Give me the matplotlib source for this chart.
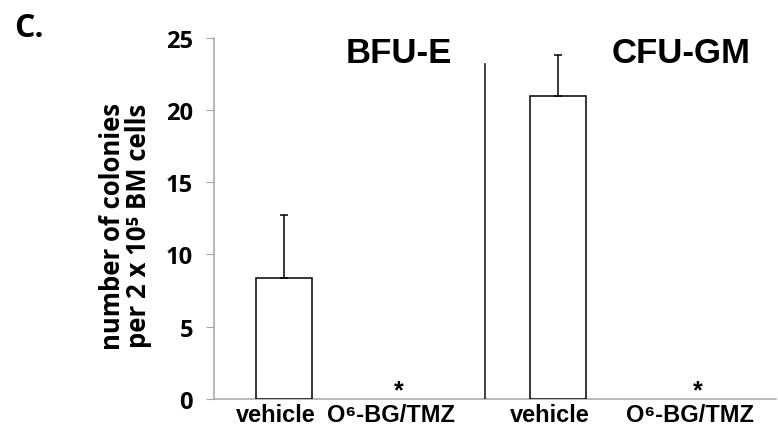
import numpy as np
import matplotlib.pyplot as plt

# data
groups = ["vehicle", "O⁶-BG/TMZ", "vehicle", "O⁶-BG/TMZ"]
means = [8.4, 0.0, 20.95, 0.0]
errs = [4.35, 0.0, 2.85, 0.0]
signif = [False, True, False, True]
panels = ["BFU-E", "CFU-GM"]

xpos = np.array([1.25, 3.3, 6.15, 8.65])
divider = 4.84

arial = ["Liberation Sans", "DejaVu Sans"]
calibri = ["Open Sans", "DejaVu Sans"]

fig = plt.figure(figsize=(7.78, 4.31), dpi=100)
ax = fig.add_axes([0.275, 0.072, 0.722, 0.838])

grey = "#a6a6a6"
for x, m, e, s in zip(xpos, means, errs, signif):
	if m > 0:
		ax.bar(x, m, width=1.0, color="white", edgecolor="black", linewidth=1.1, zorder=3)
		ax.errorbar(x, m, yerr=[[0], [e]], fmt="none", ecolor="black", elinewidth=1.1,
			capsize=3, capthick=1.1, zorder=4)
	if s:
		ax.text(x, -0.2, "*", ha="center", va="bottom", fontsize=18, fontweight="bold",
			family=arial)

ax.plot([divider, divider], [0, 23.2], color="#222222", linewidth=1.2, zorder=3)

ax.set_xlim(0, 10.04)
ax.set_ylim(0, 25)
ax.set_yticks(np.arange(0, 26, 5))
ax.set_xticks(xpos - 0.14)
ax.set_xticklabels(groups, fontsize=17, fontweight="bold", family=arial)
ax.tick_params(axis="x", length=0, pad=3)
ax.tick_params(axis="y", length=6, color=grey, pad=9, labelsize=17)
for t in ax.get_yticklabels():
	t.set_fontweight("bold")
	t.set_family(calibri)

for side in ["top", "right"]:
	ax.spines[side].set_visible(False)
ax.spines["left"].set_color(grey)
ax.spines["bottom"].set_color(grey)
ax.spines["left"].set_linewidth(1.1)
ax.spines["bottom"].set_linewidth(1.1)

ax.text(3.3, 24.0, panels[0], ha="center", va="center", fontsize=25, fontweight="bold",
	family=arial)
ax.text(8.35, 24.0, panels[1], ha="center", va="center", fontsize=25, fontweight="bold",
	family=arial)

fig.text(0.144, 0.475, "number of colonies", rotation=90, ha="center", va="center",
	fontsize=18.5, fontweight="bold", family=calibri)
fig.text(0.178, 0.475, "per 2 x 10⁵ BM cells", rotation=90, ha="center", va="center",
	fontsize=18.5, fontweight="bold", family=calibri)

fig.text(0.018, 0.935, "C.", ha="left", va="center", fontsize=23, fontweight="bold",
	family=calibri)

fig.savefig("out.png", dpi=100)
